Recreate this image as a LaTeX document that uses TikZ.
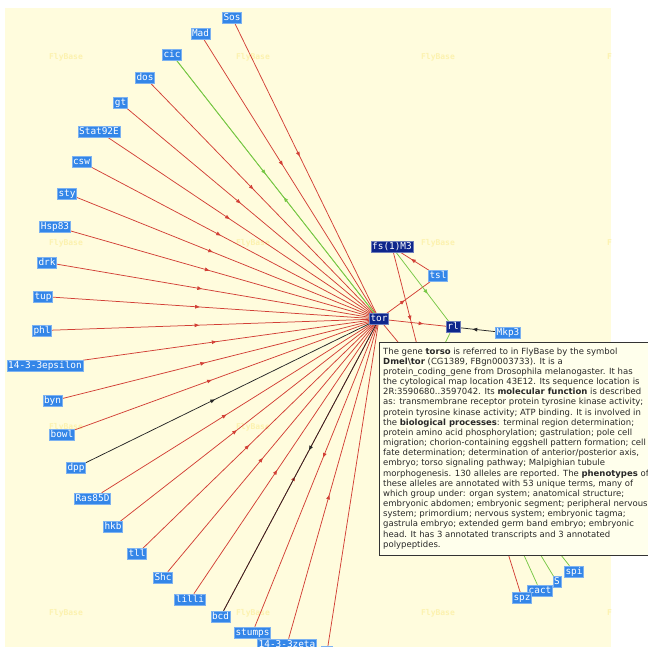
\documentclass[tikz,border=0pt]{standalone}
\usepackage{fontspec}
\setmainfont{DejaVu Sans}
\newfontfamily\lblfont{DejaVu Sans Mono}
\usetikzlibrary{arrows.meta,decorations.markings}
\definecolor{panel}{RGB}{255,252,221}
\definecolor{lblue}{RGB}{52,134,232}
\definecolor{lblueb}{RGB}{125,178,240}
\definecolor{dblue}{RGB}{14,38,140}
\definecolor{ered}{RGB}{210,64,54}
\definecolor{egreen}{RGB}{120,200,70}
\definecolor{wmark}{RGB}{252,242,175}
\definecolor{tipbg}{RGB}{255,255,236}
\definecolor{tiptext}{RGB}{40,40,40}
\pgfdeclarelayer{bg}\pgfdeclarelayer{edges}\pgfdeclarelayer{top}
\pgfsetlayers{bg,edges,main,top}
\tikzset{
  gene/.style={fill=lblue, draw=lblueb, line width=0.5pt, text=white,
    font=\lblfont\fontsize{9.4}{9.4}\selectfont, inner xsep=1.2pt, inner ysep=0pt,
    text height=7.3pt, text depth=2pt, minimum height=11pt},
  sel/.style={gene, fill=dblue, draw=dblue!60!white},
  ar/.style={postaction={decorate}, decoration={markings,
    mark=at position #1 with {\arrow{Triangle[length=4.5pt,width=3.6pt]}}}},
  er/.style={ered, line width=0.75pt},
  eg/.style={egreen, line width=0.75pt},
  ek/.style={black!85, line width=0.75pt},
  wm/.style={text=wmark, font=\lblfont\bfseries\fontsize{8}{8}\selectfont, inner sep=0pt},
}
\begin{document}
\begin{tikzpicture}[x=1pt,y=-1pt]
\useasboundingbox (0,0) rectangle (648,647);
\begin{pgfonlayer}{bg}
  \fill[white] (0,0) rectangle (648,647);
  \fill[panel] (5,8) rectangle (611,660);
  \begin{scope}
    \clip (5,8) rectangle (611,660);
    \foreach \x/\y [count=\i] in {66/57,253/57,438/57,624/57,66/243,253/243,438/243,624/243,
        66/427,253/427,66/613,253/613,438/613,624/613}
      \node[wm] (wm\i) at (\x,\y) {FlyBase};
  \end{scope}
\end{pgfonlayer}

% genes
\node[gene] (sos) at (232,17.5) {Sos};
\node[gene] (mad) at (200.5,34) {Mad};
\node[gene] (cic) at (172,54.5) {cic};
\node[gene] (dos) at (145,77.5) {dos};
\node[gene] (gt) at (120.5,103) {gt};
\node[gene] (stat) at (99,131.5) {Stat92E};
\node[gene] (csw) at (81.5,162) {csw};
\node[gene] (sty) at (67,193.5) {sty};
\node[gene] (hsp) at (55,226.5) {Hsp83};
\node[gene] (drk) at (47,262.5) {drk};
\node[gene] (tup) at (43,296.5) {tup};
\node[gene] (phl) at (42,330.5) {phl};
\node[gene] (eps) at (45,365.5) {14-3-3epsilon};
\node[gene] (byn) at (52.5,401) {byn};
\node[gene] (bowl) at (62,434.5) {bowl};
\node[gene] (dpp) at (76,467.5) {dpp};
\node[gene] (ras) at (92.5,498.5) {Ras85D};
\node[gene] (hkb) at (113,527) {hkb};
\node[gene] (tll) at (137,554) {tll};
\node[gene] (shc) at (163,577.5) {Shc};
\node[gene] (lilli) at (190,599.5) {lilli};
\node[gene] (bcd) at (220.5,616.5) {bcd};
\node[gene] (stumps) at (252.5,632.5) {stumps};
\node[gene] (zeta) at (287,644.5) {14-3-3zeta};
\node[gene, minimum width=11pt] (cut) at (327,652) {};
\node[sel] (tor) at (379,319) {tor};
\node[sel] (fs) at (392,247) {fs(1)M3};
\node[gene] (tsl) at (438,276) {tsl};
\node[sel] (rl) at (453,327) {rl};
\node[gene] (mkp) at (508,333) {Mkp3};
\node[gene] (spi) at (574,571.5) {spi};
\node[gene] (S) at (557,582) {S};
\node[gene] (cact) at (540,590.5) {cact};
\node[gene] (spz) at (522,598) {spz};

\coordinate (h1) at (440,393);
\coordinate (h2) at (440,435);
\coordinate (h3) at (428,378);
\coordinate (hubc) at (474,445);

\begin{pgfonlayer}{edges}
  \foreach \n in {sos,mad,dos,gt,stat,csw,sty,hsp,drk,tup,phl,eps,byn,bowl,ras,hkb,tll,shc,lilli}
    \draw[er, ar=0.45] (\n) -- (tor.center);
  \draw[eg, ar=0.44] (cic) -- (tor.center);
  \draw[eg, ar=0.47] (tor.center) -- (cic);
  \draw[ek, ar=0.44] (dpp) -- (tor.center);
  \draw[er, ar=0.46] (bcd) -- (tor.center);
  \draw[ek, ar=0.45] (tor.center) -- (bcd);
  \draw[er, ar=0.45] (tor.center) -- (stumps);
  \draw[er, ar=0.45] (zeta) -- (tor.center);
  \draw[er] (tor.center) -- (cut);
  \draw[er, ar=0.5] (tor.center) -- (tsl);
  \draw[er, ar=0.64] (tsl) -- (fs);
  \draw[eg, ar=0.6] (fs) -- (rl);
  \draw[er, ar=0.66] (tor.center) -- (rl);
  \draw[ek, ar=0.64] (mkp) -- (rl);
  \draw[er, ar=0.37] (fs) -- (h2);
  \draw[er] (tor.center) -- (h1);
  \draw[eg] (rl) -- (h3);
  \draw[er] (hubc) -- (spz);
  \draw[eg] (hubc) -- (cact);
  \draw[eg] (hubc) -- (S);
  \draw[eg] (hubc) -- (spi);
\end{pgfonlayer}

\begin{pgfonlayer}{top}
  \node[draw=black!80, line width=1.4pt, fill=tipbg, minimum width=290pt,
        minimum height=213pt, inner sep=0pt, anchor=north west] (tipbox) at (379,342) {};
  \node[anchor=north west, inner sep=0pt, align=left, text=tiptext,
        font=\fontsize{8.5}{10.16}\selectfont] (tip) at (383,347.5) {%
The gene \textbf{torso} is referred to in FlyBase by the symbol\\
\textbf{Dmel\textbackslash tor} (CG1389, FBgn0003733). It is a\\
protein\_coding\_gene from Drosophila melanogaster. It has\\
the cytological map location 43E12. Its sequence location is\\
2R:3590680..3597042. Its \textbf{molecular function} is described\\
as: transmembrane receptor protein tyrosine kinase activity;\\
protein tyrosine kinase activity; ATP binding. It is involved in\\
the \textbf{biological processes}: terminal region determination;\\
protein amino acid phosphorylation; gastrulation; pole cell\\
migration; chorion-containing eggshell pattern formation; cell\\
fate determination; determination of anterior/posterior axis,\\
embryo; torso signaling pathway; Malpighian tubule\\
morphogenesis. 130 alleles are reported. The \textbf{phenotypes} of\\
these alleles are annotated with 53 unique terms, many of\\
which group under: organ system; anatomical structure;\\
embryonic abdomen; embryonic segment; peripheral nervous\\
system; primordium; nervous system; embryonic tagma;\\
gastrula embryo; extended germ band embryo; embryonic\\
head. It has 3 annotated transcripts and 3 annotated\\
polypeptides.};
\end{pgfonlayer}
\end{tikzpicture}
\end{document}
